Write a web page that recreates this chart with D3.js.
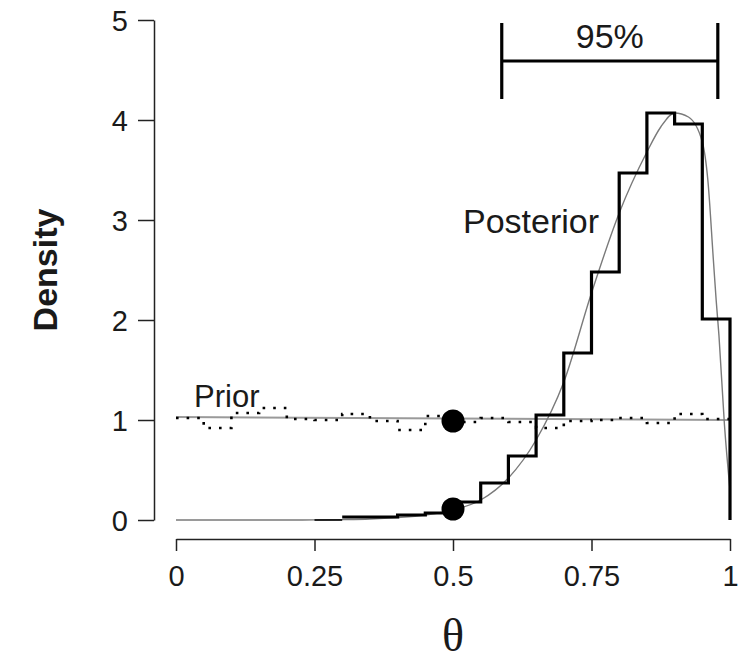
<!DOCTYPE html>
<head>
    <meta charset="utf-8">
    <script src='https://d3js.org/d3.v7.min.js'></script>
    <title>Prior and Posterior Density</title>
    <style>
        body { margin: 0; background: #ffffff; }
        text { font-family: "Liberation Sans", Arial, sans-serif; fill: #1a1a1a; }
    </style>
</head>
<body>
<svg id="chart" width="740" height="663"></svg>
<script>

// ---- data ----
var xTicks = [0, 0.25, 0.5, 0.75, 1];
var xTickLabels = ["0", "0.25", "0.5", "0.75", "1"];
var yTicks = [0, 1, 2, 3, 4, 5];

// posterior histogram, bins of width 0.05 starting at 0.25
var postBinStart = [0.25, 0.30, 0.35, 0.40, 0.45, 0.50, 0.55, 0.60, 0.65, 0.70, 0.75, 0.80, 0.85, 0.90, 0.95];
var postBinHeight = [0.0, 0.03, 0.03, 0.05, 0.07, 0.18, 0.37, 0.64, 1.05, 1.67, 2.48, 3.47, 4.07, 3.96, 2.01];

// prior histogram (dotted), bins of width 0.05 starting at 0
var priorBinStart = [0, 0.05, 0.10, 0.15, 0.20, 0.25, 0.30, 0.35, 0.40, 0.45, 0.50, 0.55, 0.60, 0.65, 0.70, 0.75, 0.80, 0.85, 0.90, 0.95];
var priorBinHeight = [1.02, 0.92, 1.07, 1.12, 1.01, 1.0, 1.06, 0.99, 0.90, 1.04, 0.98, 1.02, 0.98, 0.92, 0.99, 1.0, 1.02, 0.97, 1.06, 1.01];

// posterior density curve (gray)
var postCurveTheta = [0, 0.1, 0.2, 0.25, 0.3, 0.35, 0.4, 0.45, 0.5, 0.55, 0.6, 0.65, 0.7, 0.75, 0.8, 0.85, 0.875, 0.9, 0.925, 0.95, 0.96, 0.97, 0.975, 0.98, 0.99, 1.0];
var postCurveDens  = [0, 0, 0, 0.001, 0.004, 0.01, 0.025, 0.05, 0.1, 0.2, 0.42, 0.8, 1.38, 2.27, 3.07, 3.68, 3.93, 4.07, 4.03, 3.78, 3.4, 2.6, 2.2, 1.85, 0.95, 0.3];

// prior density curve (gray, flat)
var priorCurveTheta = [0, 0.5, 1];
var priorCurveDens  = [1.03, 1.015, 1.0];

// the two marked points at theta = 0.5
var pointTheta = [0.5, 0.5];
var pointDens  = [0.99, 0.11];

// 95% interval
var ciLow = 0.588;
var ciHigh = 0.978;

// ---- scales ----
var x = d3.scaleLinear().domain([0, 1]).range([176, 730]);
var y = d3.scaleLinear().domain([0, 5]).range([520, 20]);

var svg = d3.select("#chart");

// axes
var yAxis = svg.append("g")
    .attr("transform", "translate(154,0)")
    .call(d3.axisLeft(y).tickValues(yTicks).tickSize(16).tickSizeOuter(0).tickPadding(10).tickFormat(d3.format("d")));

var xAxis = svg.append("g")
    .attr("transform", "translate(0,539)")
    .call(d3.axisBottom(x).tickValues(xTicks).tickSize(12).tickSizeOuter(0).tickPadding(14)
        .tickFormat(function(d, i) { return xTickLabels[i]; }));

svg.selectAll(".domain, .tick line").attr("stroke", "#222").attr("stroke-width", 1.5);
svg.selectAll(".tick text").attr("font-size", "29px").attr("font-family", "Liberation Sans, Arial, sans-serif").attr("fill", "#1a1a1a");
yAxis.selectAll(".tick text").attr("dy", "0.36em");

var line = d3.line().x(function(d) { return x(d[0]); }).y(function(d) { return y(d[1]); });

// prior curve
var priorPts = priorCurveTheta.map(function(t, i) { return [t, priorCurveDens[i]]; });
svg.append("path")
    .datum(priorPts)
    .attr("fill", "none")
    .attr("stroke", "#9a9a9a")
    .attr("stroke-width", 2)
    .attr("d", line);

// prior histogram, dotted
var priorSteps = priorBinStart.map(function(t, i) { return [t, priorBinHeight[i]]; });
priorSteps.push([1, priorBinHeight[priorBinHeight.length - 1]]);
svg.append("path")
    .datum(priorSteps)
    .attr("fill", "none")
    .attr("stroke", "#000")
    .attr("stroke-width", 2.6)
    .attr("stroke-dasharray", "2.6,8")
    .attr("d", d3.line().curve(d3.curveStepAfter).x(function(d) { return x(d[0]); }).y(function(d) { return y(d[1]); }));

// posterior curve
var postPts = postCurveTheta.map(function(t, i) { return [t, postCurveDens[i]]; });
svg.append("path")
    .datum(postPts)
    .attr("fill", "none")
    .attr("stroke", "#7a7a7a")
    .attr("stroke-width", 1.4)
    .attr("d", d3.line().curve(d3.curveMonotoneX).x(function(d) { return x(d[0]); }).y(function(d) { return y(d[1]); }));

// posterior histogram: first (empty) bin drawn thin, the rest thick
var postSteps = postBinStart.map(function(t, i) { return [t, postBinHeight[i]]; });
postSteps.push([1, 0]);
svg.append("path")
    .datum(postSteps.slice(0, 2).map(function(d, i) { return i == 1 ? [d[0], postBinHeight[0]] : d; }))
    .attr("fill", "none")
    .attr("stroke", "#000")
    .attr("stroke-width", 1.6)
    .attr("d", line);
svg.append("path")
    .datum(postSteps.slice(1))
    .attr("fill", "none")
    .attr("stroke", "#000")
    .attr("stroke-width", 3.2)
    .attr("stroke-linejoin", "miter")
    .attr("d", d3.line().curve(d3.curveStepAfter).x(function(d) { return x(d[0]); }).y(function(d) { return y(d[1]); }));

// points at theta = 0.5
svg.selectAll("circle.pt")
    .data(pointTheta)
    .enter().append("circle")
    .attr("class", "pt")
    .attr("cx", function(d) { return x(d); })
    .attr("cy", function(d, i) { return y(pointDens[i]); })
    .attr("r", 11.5)
    .style("fill", "#000");

// 95% bracket
var ciY = 61;
svg.append("line").attr("x1", x(ciLow)).attr("x2", x(ciHigh)).attr("y1", ciY).attr("y2", ciY)
    .attr("stroke", "#000").attr("stroke-width", 3.2);
svg.append("line").attr("x1", x(ciLow)).attr("x2", x(ciLow)).attr("y1", ciY - 38).attr("y2", ciY + 38)
    .attr("stroke", "#000").attr("stroke-width", 3.2);
svg.append("line").attr("x1", x(ciHigh)).attr("x2", x(ciHigh)).attr("y1", ciY - 38).attr("y2", ciY + 38)
    .attr("stroke", "#000").attr("stroke-width", 3.2);
svg.append("text")
    .attr("x", (x(ciLow) + x(ciHigh)) / 2)
    .attr("y", 48)
    .attr("text-anchor", "middle")
    .attr("font-size", "34px")
    .text("95%");

// labels
svg.append("text").attr("x", 463).attr("y", 233).attr("font-size", "34px").text("Posterior");
svg.append("text").attr("x", 194).attr("y", 407).attr("font-size", "31px").text("Prior");

svg.append("text")
    .attr("transform", "translate(57,270) rotate(-90)")
    .attr("text-anchor", "middle")
    .attr("font-size", "34px")
    .attr("font-weight", 700)
    .text("Density");

svg.append("text")
    .attr("x", x(0.5))
    .attr("y", 651)
    .attr("text-anchor", "middle")
    .attr("font-size", "46px")
    .style("font-family", "Liberation Serif, Times New Roman, serif")
    .text("θ");

</script>
</body>
</html>
